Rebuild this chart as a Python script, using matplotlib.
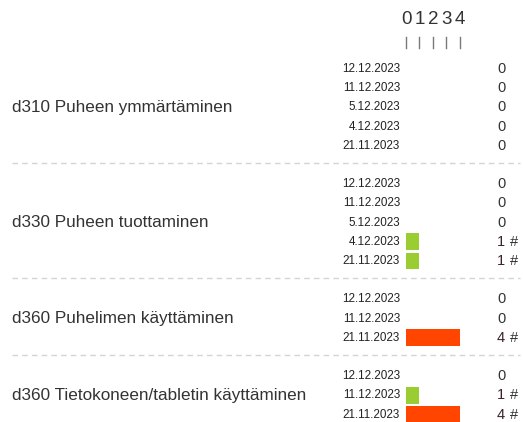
import matplotlib
matplotlib.use("Agg")
import matplotlib.pyplot as plt

plt.rcParams['font.family'] = ['Liberation Sans', 'DejaVu Sans']

# data
groups = ["d310 Puheen ymmärtäminen",
          "d330 Puheen tuottaminen",
          "d360 Puhelimen käyttäminen",
          "d360 Tietokoneen/tabletin käyttäminen"]
dates_d310 = ["12.12.2023", "11.12.2023", "5.12.2023", "4.12.2023", "21.11.2023"]
dates_d330 = ["12.12.2023", "11.12.2023", "5.12.2023", "4.12.2023", "21.11.2023"]
dates_d360a = ["12.12.2023", "11.12.2023", "21.11.2023"]
dates_d360b = ["12.12.2023", "11.12.2023", "21.11.2023"]
values_d310 = [0, 0, 0, 0, 0]
values_d330 = [0, 0, 0, 1, 1]
values_d360a = [0, 0, 4]
values_d360b = [0, 1, 4]
scale_ticks = [0, 1, 2, 3, 4]

all_dates = [dates_d310, dates_d330, dates_d360a, dates_d360b]
all_values = [values_d310, values_d330, values_d360a, values_d360b]
colors = {1: '#9acd32', 2: '#ffd700', 3: '#ffa500', 4: '#ff4500'}

W, H = 523, 422
fig = plt.figure(figsize=(W / 100, H / 100), dpi=100)
ax = fig.add_axes([0, 0, 1, 1])

# pixel layout -> data units (x: score units, y: rows)
x0_px, unit_px = 406, 13.4
y0_px, row_px = 69, 19.2
ax.set_xlim(-x0_px / unit_px, (W - x0_px) / unit_px)
ax.set_ylim((H - y0_px) / row_px, -y0_px / row_px)
ax.axis('off')

def px_x(p):
    return (p - x0_px) / unit_px

def px_y(p):
    return (p - y0_px) / row_px

# header scale
for t in scale_ticks:
    ax.text(t, px_y(19), str(t), ha='center', va='center', fontsize=13.5, color='#333333')
    ax.plot([t, t], [px_y(37), px_y(48)], color='#7a7a7a', lw=1)

row = 0
for gi, (label, dates, vals) in enumerate(zip(groups, all_dates, all_values)):
    rows = list(range(row, row + len(dates)))
    center = (rows[0] + rows[-1]) / 2
    ax.text(px_x(12), center, label, ha='left', va='center', fontsize=12.3, color='#333333')
    for r, d, v in zip(rows, dates, vals):
        ax.text(-0.45, r, d, ha='right', va='center', fontsize=8.4, color='#222222')
        vcol = '#3a2424' if v > 0 else '#333333'
        ax.text(px_x(501), r, str(v), ha='center', va='center', fontsize=10.5, color=vcol)
        if v > 0:
            ax.barh(r, v, left=0, height=0.88, color=colors[v])
            ax.text(px_x(514), r, "#", ha='center', va='center', fontsize=10.5, color='#333333')
    row = rows[-1] + 2
    if gi < len(groups) - 1:
        sep = rows[-1] + 1 - 0.1
        ax.plot([px_x(12), px_x(520)], [sep, sep], color='#d4d4d4', lw=1,
                linestyle=(0, (4, 3)))

fig.savefig('out.png', dpi=100)
